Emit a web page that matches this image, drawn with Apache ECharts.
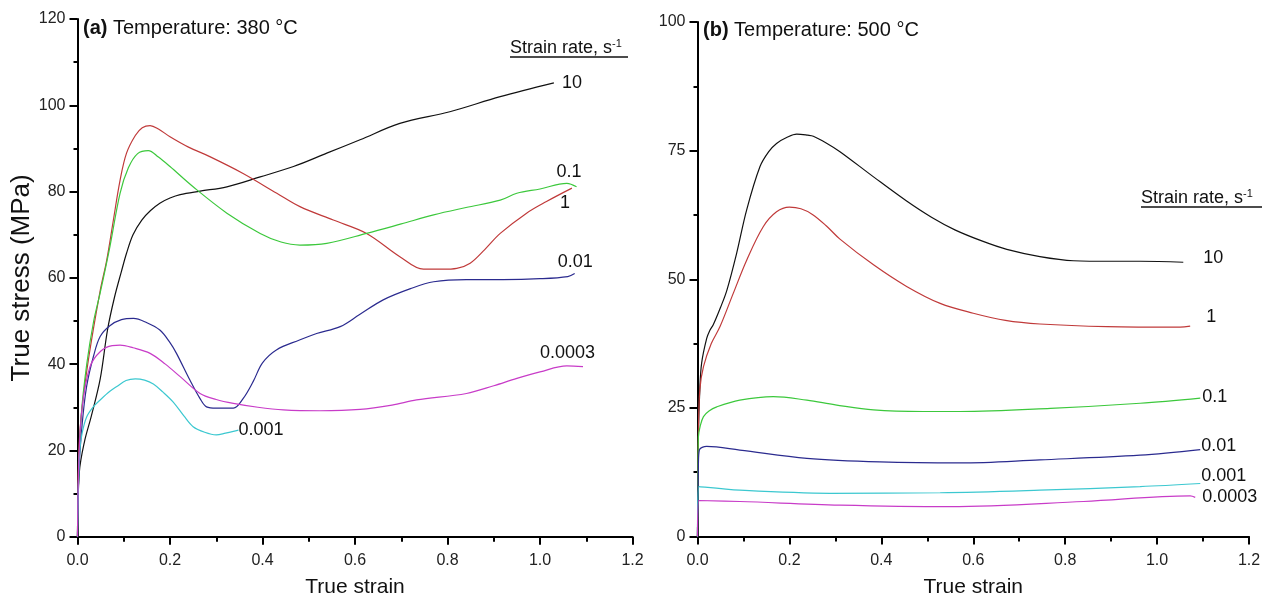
<!DOCTYPE html>
<html>
<head>
<meta charset="utf-8">
<script src="https://cdn.jsdelivr.net/npm/echarts@6/dist/echarts.min.js"></script>
<style>
  html, body { margin: 0; padding: 0; background: #fff; }
  #chart_id { width: 1269px; height: 603px; }
</style>
</head>
<body>
<div id="chart_id"></div>
<script>
// (a) 380 °C, [true strain, true stress MPa]
var a10 = [[0,0],[0.004,15],[0.015,22],[0.03,28],[0.049,36.5],[0.065,48],[0.08,55.5],[0.095,61.5],[0.106,65.7],[0.12,70],[0.139,73.4],[0.158,75.6],[0.178,77.3],[0.2,78.5],[0.222,79.3],[0.265,80.1],[0.323,81.1],[0.395,83.4],[0.467,85.8],[0.539,88.9],[0.611,92],[0.697,95.8],[0.805,98.5],[0.914,102],[1.03,105.2]];
var a1 = [[0,0],[0.003,20],[0.01,30],[0.025,42],[0.049,57],[0.063,64],[0.077,73],[0.092,82.6],[0.106,88.9],[0.125,93],[0.14,94.8],[0.157,95.3],[0.175,94.5],[0.2,92.7],[0.24,90.3],[0.286,88.1],[0.358,84.2],[0.431,79.6],[0.481,76.5],[0.553,73.4],[0.625,70.3],[0.697,64.9],[0.748,62],[0.79,62],[0.82,62.2],[0.849,63.4],[0.88,66.5],[0.914,70.3],[0.971,75],[1.014,77.7],[1.069,80.8]];
var a01 = [[0,0],[0.002,12],[0.008,28],[0.02,40],[0.035,50],[0.049,56.5],[0.07,67.2],[0.092,79.6],[0.11,85.5],[0.13,88.8],[0.153,89.5],[0.175,88],[0.2,85.8],[0.25,81.1],[0.323,75],[0.395,70.3],[0.44,68.3],[0.481,67.6],[0.539,68],[0.625,70.3],[0.7,72.5],[0.77,74.6],[0.84,76.3],[0.914,78],[0.95,79.6],[1.0,80.6],[1.058,81.9],[1.079,81.1]];
var a001 = [[0,0],[0.003,15],[0.01,26],[0.02,35],[0.035,42],[0.049,46.4],[0.07,48.9],[0.095,50.3],[0.121,50.6],[0.15,49.6],[0.178,47.9],[0.2,45],[0.214,42.5],[0.243,36.3],[0.265,32],[0.279,30.1],[0.3,29.8],[0.337,29.8],[0.358,32],[0.38,36],[0.4,40.3],[0.43,43.3],[0.48,45.6],[0.517,47.1],[0.568,48.7],[0.61,51.5],[0.661,54.9],[0.72,57.5],[0.77,59.1],[0.841,59.6],[0.92,59.6],[1.0,59.8],[1.06,60.3],[1.075,61]];
var a0001 = [[0,0],[0.002,12],[0.005,20],[0.01,24],[0.02,27.8],[0.035,30.2],[0.049,31.7],[0.07,33.7],[0.085,34.8],[0.105,36.2],[0.125,36.6],[0.145,36.3],[0.164,35.4],[0.185,33.5],[0.207,31.2],[0.23,28],[0.25,25.5],[0.275,24.2],[0.3,23.6],[0.32,24],[0.337,24.4],[0.348,24.7]];
var a00003 = [[0,0],[0.003,18],[0.01,30],[0.027,39.4],[0.05,43],[0.075,44.3],[0.092,44.4],[0.12,43.8],[0.157,42.5],[0.19,40],[0.222,37.1],[0.265,33.2],[0.3,31.8],[0.337,30.9],[0.39,30],[0.445,29.4],[0.524,29.2],[0.611,29.5],[0.68,30.5],[0.733,31.7],[0.841,33.2],[0.9,35],[0.95,36.7],[1.0,38.2],[1.058,39.6],[1.093,39.4]];

// (b) 500 °C
var b10 = [[0,0],[0.002,20],[0.005,28.5],[0.009,33.7],[0.02,38.5],[0.027,40.1],[0.034,41.1],[0.05,44.5],[0.064,47.9],[0.085,55],[0.107,63.5],[0.136,71.9],[0.155,74.8],[0.172,76.4],[0.195,77.6],[0.216,78.2],[0.24,78],[0.252,77.8],[0.28,76.5],[0.31,74.8],[0.383,69.9],[0.455,65.2],[0.51,62],[0.56,59.6],[0.62,57.4],[0.673,55.8],[0.745,54.4],[0.818,53.6],[0.9,53.5],[0.963,53.5],[1.057,53.3]];
var b1 = [[0,0],[0.002,20],[0.005,28.5],[0.013,33],[0.03,37.5],[0.049,40.8],[0.078,47.3],[0.107,53.7],[0.143,60.2],[0.172,63.1],[0.2,64],[0.225,63.7],[0.25,62.6],[0.28,60.4],[0.31,57.8],[0.383,52.8],[0.455,48.6],[0.528,45.3],[0.6,43.4],[0.67,42],[0.745,41.3],[0.891,40.8],[1.05,40.7],[1.072,40.9]];
var b01 = [[0,0],[0.001,12],[0.002,19.4],[0.006,21.5],[0.013,23.3],[0.025,24.4],[0.042,25.2],[0.092,26.5],[0.165,27.2],[0.238,26.5],[0.3,25.6],[0.383,24.6],[0.491,24.3],[0.571,24.3],[0.768,24.9],[0.963,25.9],[1.094,26.9]];
var b001 = [[0,0],[0.002,14],[0.004,16.8],[0.02,17.5],[0.092,16.8],[0.238,15.2],[0.397,14.5],[0.571,14.3],[0.745,14.9],[0.963,15.8],[1.094,16.9]];
var b0001 = [[0,0],[0.003,9.7],[0.092,9],[0.288,8.4],[0.528,8.5],[0.745,9],[0.963,9.7],[1.094,10.3]];
var b00003 = [[0,0],[0.003,7],[0.092,6.8],[0.31,6.1],[0.55,5.8],[0.84,6.8],[1.072,7.9],[1.083,7.6]];

var rateNames = ['10', '1', '0.1', '0.01', '0.001', '0.0003'];
var colors = ['#111111', '#c03a3a', '#3cc83c', '#2b2b8f', '#3cc8d0', '#c83cc8'];

var narrow = "'Liberation Sans Narrow', 'Liberation Sans', Arial, sans-serif";
var sans = "'Liberation Sans', Arial, sans-serif";

function xAx(gi) {
  return {
    type: 'value', gridIndex: gi, min: 0, max: 1.2, interval: 0.2,
    name: 'True strain', nameLocation: 'middle', nameGap: 40,
    nameTextStyle: { fontFamily: sans, fontSize: 21, color: '#111' },
    axisLine: { show: true, lineStyle: { color: '#000', width: 2 } },
    axisTick: { show: true, length: 8, lineStyle: { width: 2, color: '#000' } },
    minorTick: { show: true, splitNumber: 2, length: 5, lineStyle: { width: 2, color: '#000' } },
    splitLine: { show: false },
    axisLabel: { margin: 16, fontFamily: narrow, fontSize: 16, color: '#222',
      formatter: function (v) { return v.toFixed(1); } }
  };
}
function yAx(gi, max, interval) {
  return {
    type: 'value', gridIndex: gi, min: 0, max: max, interval: interval,
    axisLine: { show: true, lineStyle: { color: '#000', width: 2 } },
    axisTick: { show: true, length: 8, lineStyle: { width: 2, color: '#000' } },
    minorTick: { show: true, splitNumber: 2, length: 4, lineStyle: { width: 2, color: '#000' } },
    splitLine: { show: false },
    axisLabel: { margin: 12, fontFamily: narrow, fontSize: 16, color: '#222' }
  };
}

function line(gi, name, data, color, offset) {
  return {
    type: 'line', name: name, xAxisIndex: gi, yAxisIndex: gi, data: data,
    showSymbol: false, smooth: 0.35,
    lineStyle: { color: color, width: 1.2 }, itemStyle: { color: color },
    endLabel: { show: true, formatter: name, distance: 0, offset: offset,
      align: 'left', verticalAlign: 'middle',
      fontFamily: sans, fontSize: 18, color: '#111' }
  };
}

var yName = yAx(0, 120, 20);
yName.name = 'True stress (MPa)';
yName.nameLocation = 'middle';
yName.nameGap = 42;
yName.nameTextStyle = { fontFamily: sans, fontSize: 26, color: '#111' };

var option = {
  animation: false,
  backgroundColor: '#fff',
  grid: [
    { left: 77.5, top: 19, width: 555, height: 517.7 },
    { left: 697.5, top: 22, width: 551.5, height: 514.5 }
  ],
  xAxis: [xAx(0), xAx(1)],
  yAxis: [yName, yAx(1, 100, 25)],
  series: [
    line(0, rateNames[0], a10, colors[0], [8, 0]),
    line(0, rateNames[1], a1, colors[1], [-12, 15]),
    line(0, rateNames[2], a01, colors[2], [-20, -15]),
    line(0, rateNames[3], a001, colors[3], [-17, -12]),
    line(0, rateNames[4], a0001, colors[4], [0, 0]),
    line(0, rateNames[5], a00003, colors[5], [-43, -14]),
    line(1, rateNames[0], b10, colors[0], [20, -4]),
    line(1, rateNames[1], b1, colors[1], [16, -9]),
    line(1, rateNames[2], b01, colors[2], [2, -1]),
    line(1, rateNames[3], b001, colors[3], [1, -4]),
    line(1, rateNames[4], b0001, colors[4], [1, -7]),
    line(1, rateNames[5], b00003, colors[5], [7, 0])
  ],
  graphic: [
    { type: 'text', x: 83, y: 28, style: { text: '{b|(a)} Temperature: 380 °C', fill: '#111',
      font: '20px ' + sans, textVerticalAlign: 'middle',
      rich: { b: { fontWeight: 'bold', fontSize: 20, fontFamily: sans } } } },
    { type: 'text', x: 703, y: 30, style: { text: '{b|(b)} Temperature: 500 °C', fill: '#111',
      font: '20px ' + sans, textVerticalAlign: 'middle',
      rich: { b: { fontWeight: 'bold', fontSize: 20, fontFamily: sans } } } },
    { type: 'text', x: 510, y: 48, style: { text: '{t|Strain rate, s}{s|-1}', fill: '#111',
      textVerticalAlign: 'middle',
      rich: { t: { fontSize: 18, fontFamily: sans }, s: { fontSize: 11, fontFamily: sans, verticalAlign: 'top', padding: [0, 0, 8, 0] } } } },
    { type: 'line', shape: { x1: 510, y1: 57, x2: 628, y2: 57 }, style: { stroke: '#111', lineWidth: 1.5 } },
    { type: 'text', x: 1141, y: 198, style: { text: '{t|Strain rate, s}{s|-1}', fill: '#111',
      textVerticalAlign: 'middle',
      rich: { t: { fontSize: 18, fontFamily: sans }, s: { fontSize: 11, fontFamily: sans, verticalAlign: 'top', padding: [0, 0, 8, 0] } } } },
    { type: 'line', shape: { x1: 1141, y1: 207, x2: 1262, y2: 207 }, style: { stroke: '#111', lineWidth: 1.5 } }
  ]
};

var chart = echarts.init(document.getElementById('chart_id'));
chart.setOption(option);
</script>
</body>
</html>
